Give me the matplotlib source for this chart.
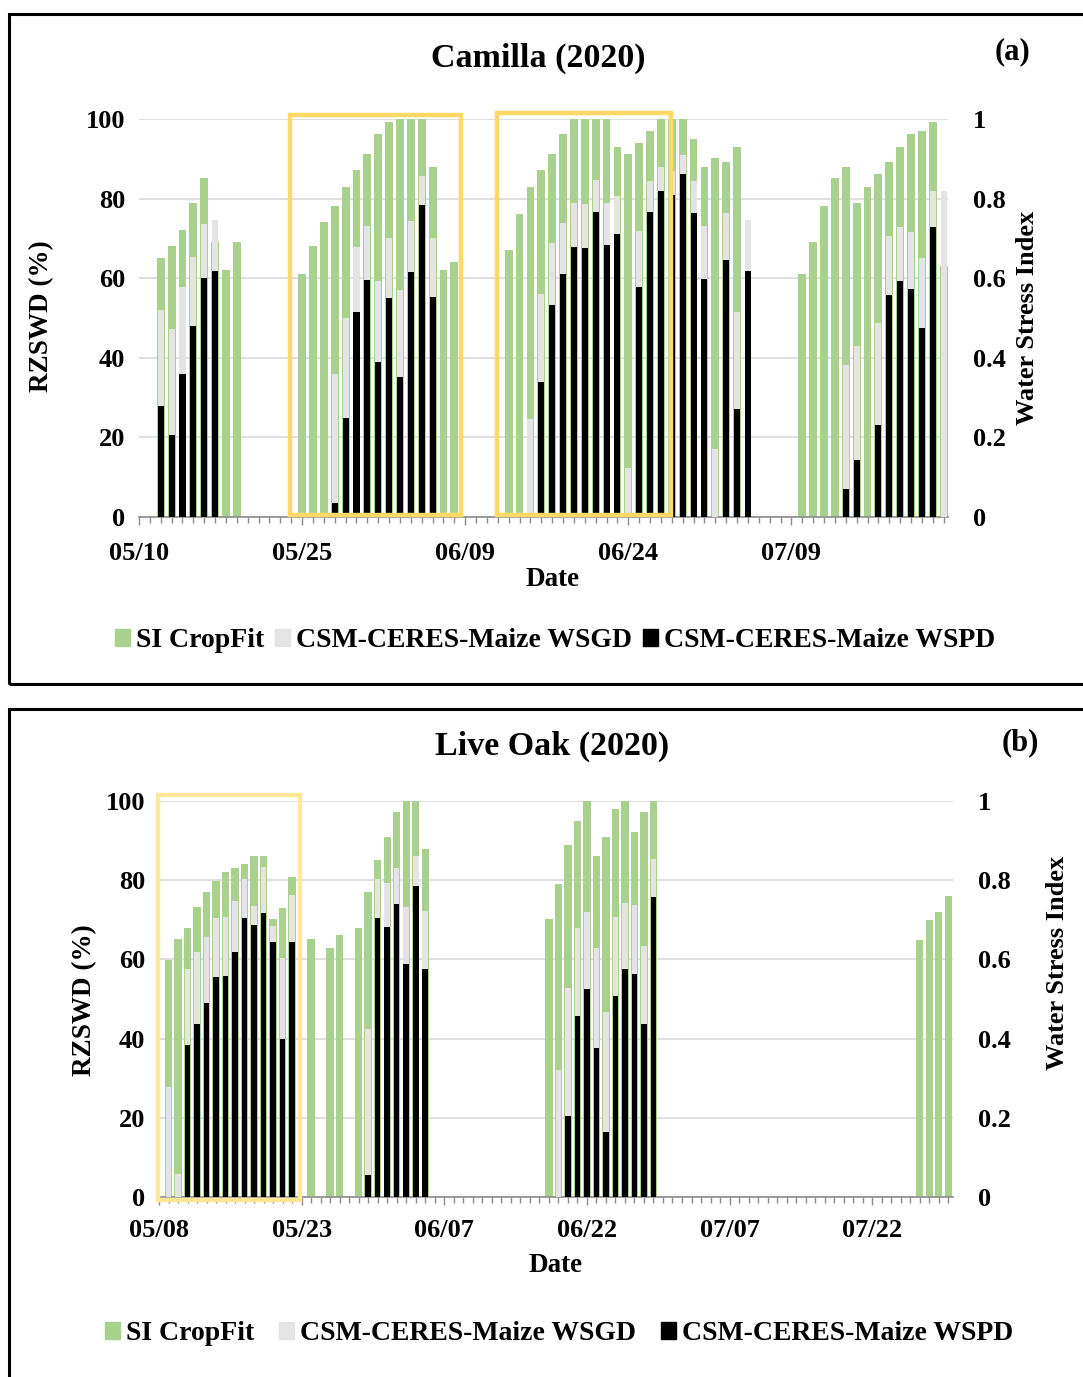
import numpy as np
import matplotlib.pyplot as plt
from matplotlib.patches import Rectangle, Patch
from matplotlib.ticker import FixedLocator

plt.rcParams['font.family'] = ['Liberation Serif', 'DejaVu Serif']
plt.rcParams['font.weight'] = 'bold'

nan = np.nan

# Camilla (2020) -- day number counted from 05/10
cam_days = [2, 3, 4, 5, 6, 7, 8, 9,
            15, 16, 17, 18, 19, 20, 21, 22, 23, 24, 25, 26, 27, 28, 29,
            34, 35, 36, 37, 38, 39, 40, 41, 42, 43, 44, 45, 46, 47, 48, 49,
            50, 51, 52, 53, 54, 55, 56,
            61, 62, 63, 64, 65, 66, 67, 68, 69, 70, 71, 72, 73, 74]
cam_si = [65.0, 68.1, 72.1, 79.0, 85.1, 69.2, 62.0, 69.2,
          61.0, 68.1, 74.0, 78.1, 83.0, 87.2, 91.2, 96.2, 99.2, 100, 100, 100, 88.0, 62.0, 64.1,
          67.1, 76.1, 83.0, 87.2, 91.2, 96.2, 100, 100, 100, 100, 93.0, 91.2, 94.0, 97.1, 100, 100,
          100, 95.1, 88.0, 90.1, 89.1, 93.0, nan,
          61.0, 69.2, 78.1, 85.1, 88.0, 79.0, 83.0, 86.2, 89.1, 93.0, 96.2, 97.1, 99.2, 63.0]
cam_wsgd = [0.52, 0.472, 0.577, 0.654, 0.736, 0.746, nan, nan,
            nan, nan, nan, 0.359, 0.501, 0.679, 0.731, 0.593, 0.70, 0.57, 0.744, 0.857, 0.702, nan, nan,
            nan, nan, 0.246, 0.56, 0.689, 0.739, 0.788, 0.786, 0.847, 0.788, 0.806, 0.124, 0.719, 0.845, 0.88, 0.87,
            0.909, 0.845, 0.731, 0.17, 0.764, 0.516, 0.746,
            nan, nan, nan, nan, 0.381, 0.429, nan, 0.488, 0.706, 0.729, 0.717, 0.65, 0.82, 0.82]
cam_wspd = [0.279, 0.205, 0.36, 0.48, 0.601, 0.619, nan, nan,
            nan, nan, nan, 0.036, 0.25, 0.516, 0.595, 0.39, 0.549, 0.352, 0.616, 0.784, 0.552, nan, nan,
            nan, nan, nan, 0.339, 0.532, 0.61, 0.679, 0.677, 0.767, 0.683, 0.711, nan, 0.577, 0.767, 0.82, 0.81,
            0.862, 0.763, 0.598, nan, 0.645, 0.272, 0.619,
            nan, nan, nan, nan, 0.07, 0.142, nan, 0.231, 0.557, 0.593, 0.574, 0.474, 0.729, nan]
cam_ticks = [0, 15, 30, 45, 60]
cam_labels = ['05/10', '05/25', '06/09', '06/24', '07/09']

# Live Oak (2020) -- day number counted from 05/08
lo_days = [1, 2, 3, 4, 5, 6, 7, 8, 9, 10, 11, 12, 13, 14,
           16, 18, 19, 21, 22, 23, 24, 25, 26, 27, 28,
           41, 42, 43, 44, 45, 46, 47, 48, 49, 50, 51, 52,
           80, 81, 82, 83]
lo_si = [59.8, 65.1, 68.0, 73.2, 77.1, 79.9, 82.1, 83.0, 84.1, 86.1, 86.1, 70.1, 73.1, 80.9,
         65.1, 63.0, 66.1, 68.0, 77.1, 85.1, 91.0, 97.1, 100, 100, 87.9,
         70.1, 79.0, 88.9, 94.9, 100, 86.1, 91.0, 98.0, 100, 92.1, 97.1, 100,
         65.0, 69.9, 72.0, 76.0]
lo_wsgd = [0.278, 0.057, 0.575, 0.618, 0.657, 0.705, 0.708, 0.748, 0.802, 0.735, 0.834, 0.685, 0.603, 0.762,
           nan, nan, nan, nan, 0.425, 0.802, 0.792, 0.832, 0.733, 0.861, 0.723,
           nan, 0.32, 0.527, 0.68, 0.719, 0.628, 0.468, 0.708, 0.743, 0.737, 0.634, 0.853,
           nan, nan, nan, nan]
lo_wspd = [nan, nan, 0.383, 0.436, 0.491, 0.556, 0.559, 0.618, 0.705, 0.686, 0.718, 0.643, 0.398, 0.644,
           nan, nan, nan, nan, 0.055, 0.705, 0.682, 0.740, 0.588, 0.785, 0.577,
           nan, nan, 0.204, 0.457, 0.524, 0.377, 0.165, 0.508, 0.575, 0.564, 0.436, 0.758,
           nan, nan, nan, nan]
lo_ticks = [0, 15, 30, 45, 60, 75]
lo_labels = ['05/08', '05/23', '06/07', '06/22', '07/07', '07/22']

GREEN = '#A9D18E'
GRAY = '#E4E4E4'
GRID = '#D9D9D9'
AXCOL = '#8C8C8C'

W, H = 1083, 1377
fig = plt.figure(figsize=(W / 100, H / 100), dpi=100)


def fx(x):
    return x / W


def fy(y):
    return 1 - y / H


def panel(x0, x1, ytop, ybot, days, si, wsgd, wspd, ticks, labels, xmax,
          wg, wb, xpad):
    ax = fig.add_axes([fx(x0), fy(ybot), fx(x1 - x0), (ybot - ytop) / H])
    ax2 = ax.twinx()
    ax.bar(days, si, width=wg, color=GREEN, zorder=2)
    ax2.bar(days, wsgd, width=wb, color=GRAY)
    ax2.bar(days, wspd, width=wb, color='black')

    ax.set_xlim(0, xmax)
    ax.set_ylim(0, 100)
    ax2.set_ylim(0, 1)
    ax.set_yticks([0, 20, 40, 60, 80, 100])
    ax2.set_yticks([0, 0.2, 0.4, 0.6, 0.8, 1])
    ax2.set_yticklabels(['0', '0.2', '0.4', '0.6', '0.8', '1'])
    ax.set_axisbelow(True)
    ax.yaxis.grid(True, color=GRID, lw=1.2)

    ax.set_xticks(ticks)
    ax.set_xticklabels(labels)
    ax.xaxis.set_minor_locator(FixedLocator(np.arange(0, int(xmax) + 1)))
    ax.tick_params(axis='x', which='major', length=6, width=1, color=AXCOL,
                   labelsize=19, pad=xpad)
    ax.tick_params(axis='x', which='minor', length=4, width=1, color=AXCOL)
    ax.tick_params(axis='y', length=0, labelsize=19, pad=10)
    ax2.tick_params(axis='y', length=0, labelsize=19, pad=18)

    for s in ['top', 'left', 'right']:
        ax.spines[s].set_visible(False)
    ax.spines['bottom'].set_color(AXCOL)
    ax.spines['bottom'].set_linewidth(1.2)
    for s in ax2.spines.values():
        s.set_visible(False)
    return ax, ax2


def box(ax2, xa, xb, ya, yb, color):
    ax2.add_patch(Rectangle((xa, ya), xb - xa, yb - ya, fill=False,
                            edgecolor=color, lw=3.2, zorder=10, clip_on=False))


# panel frames
fig.add_artist(Rectangle((fx(8.5), fy(684)), 1.2, (684 - 14) / H, fill=False,
                         edgecolor='black', lw=2.2, transform=fig.transFigure))
fig.add_artist(Rectangle((fx(8.5), -0.2), 1.2, 0.2 + (H - 709) / H, fill=False,
                         edgecolor='black', lw=2.2, transform=fig.transFigure))

# (a) Camilla
ax, ax2 = panel(139, 948, 119, 517, cam_days, cam_si, cam_wsgd, cam_wspd,
                cam_ticks, cam_labels, 74.4, 0.72, 0.56, 12)
box(ax2, 13.85, 29.62, 0.004, 1.011, '#FFD966')
box(ax2, 32.93, 48.9, 0.006, 1.014, '#FFD966')
fig.text(fx(538), fy(58), 'Camilla (2020)', ha='center', va='center', fontsize=24.5)
fig.text(fx(1013), fy(52), '(a)', ha='center', va='center', fontsize=22)
fig.text(fx(553), fy(579), 'Date', ha='center', va='center', fontsize=19.5)
fig.text(fx(42), fy(316), 'RZSWD (%)', ha='center', va='center', rotation=90, fontsize=19.5)
fig.text(fx(1028), fy(318), 'Water Stress Index', ha='center', va='center', rotation=90, fontsize=19)

handles = [Patch(color=GREEN), Patch(color=GRAY), Patch(color='black')]
names = ['SI CropFit', 'CSM-CERES-Maize WSGD', 'CSM-CERES-Maize WSPD']
fig.legend(handles, names, loc='center', bbox_to_anchor=(fx(555), fy(641)), ncol=3,
           frameon=False, fontsize=20, handlelength=0.55, handleheight=0.55,
           handletextpad=0.2, columnspacing=0.4)

# (b) Live Oak
bx, bx2 = panel(159, 953, 801, 1197, lo_days, lo_si, lo_wsgd, lo_wspd,
                lo_ticks, lo_labels, 83.5, 0.78, 0.58, 10)
box(bx2, -0.1, 14.88, -0.008, 1.014, '#FFE699')
fig.text(fx(552), fy(746), 'Live Oak (2020)', ha='center', va='center', fontsize=24.5)
fig.text(fx(1020), fy(743), '(b)', ha='center', va='center', fontsize=22)
fig.text(fx(556), fy(1266), 'Date', ha='center', va='center', fontsize=19.5)
fig.text(fx(85), fy(1000), 'RZSWD (%)', ha='center', va='center', rotation=90, fontsize=19.5)
fig.text(fx(1057), fy(963), 'Water Stress Index', ha='center', va='center', rotation=90, fontsize=19)
fig.legend(handles, names, loc='center', bbox_to_anchor=(fx(559), fy(1334)), ncol=3,
           frameon=False, fontsize=20, handlelength=0.55, handleheight=0.55,
           handletextpad=0.2, columnspacing=0.9)

fig.savefig('out.png', dpi=100, facecolor='white')
